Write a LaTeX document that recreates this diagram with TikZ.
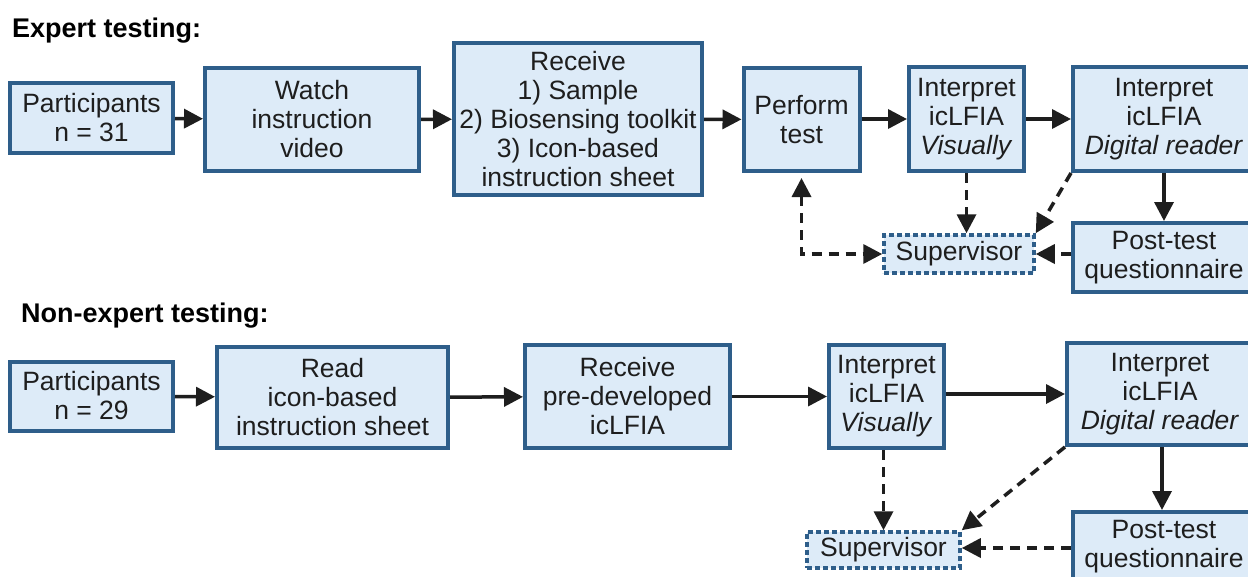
\documentclass[tikz,border=0pt]{standalone}
\usepackage{fontspec}
\setmainfont{Liberation Sans}
\usetikzlibrary{arrows.meta}
\definecolor{boxblue}{RGB}{46,94,138}
\definecolor{boxfill}{RGB}{221,235,248}
\definecolor{inkc}{RGB}{30,30,30}
\tikzset{
  stepbox/.style={draw=boxblue, fill=boxfill, line width=4pt, align=center,
    inner sep=0pt, text=inkc, font=\fontsize{26.5}{29}\selectfont},
  supbox/.style={stepbox, line width=3.5pt, dash pattern=on 5pt off 3pt},
  tipA/.tip={Triangle[length=19pt,width=19pt]},
  arr/.style={-tipA, line width=3.5pt, draw=inkc},
  darr/.style={arr, dash pattern=on 10pt off 7pt},
  heading/.style={anchor=base west, inner sep=0pt, text=black,
    font=\fontsize{27}{30}\selectfont\bfseries}
}
\begin{document}
\begin{tikzpicture}[x=1pt,y=-1pt]
\useasboundingbox[fill=white] (0,0) rectangle (1248,576);

% ---- Expert testing ----
\node[heading] (t1) at (12,37) {Expert testing:};
\node[stepbox, minimum width=163pt, minimum height=70pt] (p1) at (91.5,118) {Participants\\n = 31};
\node[stepbox, minimum width=214pt, minimum height=103pt] (watch) at (312,119.5) {Watch\\instruction\\video};
\node[stepbox, minimum width=248pt, minimum height=152pt] (recv1) at (578,119) {Receive\\1) Sample\\2) Biosensing toolkit\\3) Icon-based\\instruction sheet};
\node[stepbox, minimum width=116pt, minimum height=103pt] (perf) at (801.5,119.5) {Perform\\test};
\node[stepbox, minimum width=115pt, minimum height=104pt] (vis1) at (966.5,119) {Interpret\\icLFIA\\\textit{Visually}};
\node[stepbox, minimum width=182pt, minimum height=104pt] (dig1) at (1164,119) {Interpret\\icLFIA\\\textit{Digital reader}};
\node[stepbox, minimum width=182pt, minimum height=69pt] (post1) at (1164,257.5) {Post-test\\questionnaire};
\node[supbox, minimum width=150pt, minimum height=38pt] (sup1) at (959,254) {Supervisor};

\draw[arr] (p1) -- (watch);
\draw[arr] (watch) -- (recv1);
\draw[arr] (recv1) -- (perf);
\draw[arr] (perf.east |- vis1.west) -- (vis1.west);
\draw[arr] (vis1) -- (dig1);
\draw[arr] (dig1.south -| post1.north) -- (post1.north);
\draw[darr] (vis1.south) -- (sup1.north -| vis1.south);
\draw[darr] (dig1.south west) -- (sup1.north east);
\draw[darr] (post1.west |- sup1.east) -- (sup1.east);
\draw[darr, tipA-tipA, shorten <=5pt] (perf.south) |- (sup1.west);

% ---- Non-expert testing ----
\node[heading] (t2) at (21,322) {Non-expert testing:};
\node[stepbox, minimum width=163pt, minimum height=69pt] (p2) at (91.5,396) {Participants\\n = 29};
\node[stepbox, minimum width=231pt, minimum height=101pt] (read) at (332.5,397.5) {Read\\icon-based\\instruction sheet};
\node[stepbox, minimum width=205pt, minimum height=103pt] (recv2) at (627.5,396.5) {Receive\\pre-developed\\icLFIA};
\node[stepbox, minimum width=115pt, minimum height=103pt] (vis2) at (886.5,396.5) {Interpret\\icLFIA\\\textit{Visually}};
\node[stepbox, minimum width=186pt, minimum height=102pt] (dig2) at (1160,394) {Interpret\\icLFIA\\\textit{Digital reader}};
\node[stepbox, minimum width=182pt, minimum height=70pt] (post2) at (1164,547) {Post-test\\questionnaire};
\node[supbox, minimum width=153pt, minimum height=36pt] (sup2) at (883.5,550) {Supervisor};

\draw[arr] (p2) -- (read);
\draw[arr] (read) -- (recv2);
\draw[arr] (recv2) -- (vis2);
\draw[arr] (vis2.east |- dig2.west) -- (dig2.west);
\draw[arr] (dig2.south -| 1162,0) -- (post2.north -| 1162,0);
\draw[darr] (vis2.south -| sup2.north) -- (sup2.north);
\draw[darr] (dig2.south west) -- (sup2.north east);
\draw[darr] (post2.west |- 0,548) -- (sup2.east |- 0,548);
\end{tikzpicture}
\end{document}
